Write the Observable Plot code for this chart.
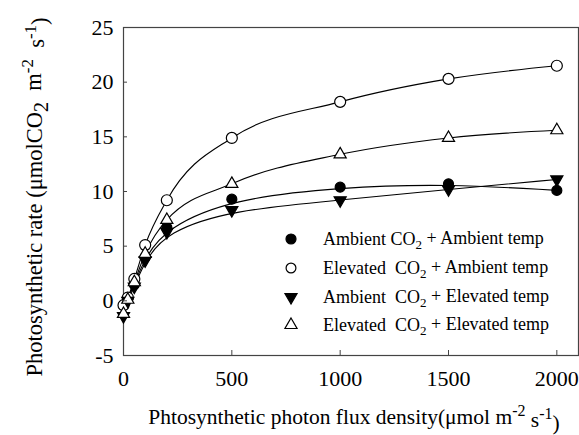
<!DOCTYPE html>
<html><head><meta charset="utf-8">
<script src="https://cdn.jsdelivr.net/npm/d3@7"></script>
<script src="https://cdn.jsdelivr.net/npm/@observablehq/plot@0.6"></script>
<style>
body{margin:0;background:#fff;}
#chart svg{display:block;}
#chart svg, #chart svg text, #chart svg tspan{font-family:'Liberation Serif','Times New Roman',serif !important;}
</style>
</head><body><div id="chart"></div>
<script>
const ppfd = [0, 20, 50, 100, 200, 500, 1000, 1500, 2000];
const seriesNames = [
  "Ambient CO2 + Ambient temp",
  "Elevated CO2 + Ambient temp",
  "Ambient CO2 + Elevated temp",
  "Elevated CO2 + Elevated temp"
];
const ambAmb = [-0.4, 0.2, 1.5, 4.0, 6.7, 9.3, 10.4, 10.7, 10.1];
const eleAmb = [-0.4, 0.3, 2.0, 5.1, 9.2, 14.9, 18.2, 20.3, 21.5];
const ambEle = [-1.4, 0.0, 1.3, 3.7, 6.3, 8.3, 9.2, 10.2, 11.1];
const eleEle = [-1.2, 0.1, 1.7, 4.3, 7.4, 10.7, 13.4, 14.9, 15.6];
const xTicks = [0, 500, 1000, 1500, 2000];
const yTicks = [-5, 0, 5, 10, 15, 20, 25];

const values = [ambAmb, eleAmb, ambEle, eleEle];
const styles = [
  {symbol: "circle", fill: "black", rotate: 0, r: 5, curve: "basis"},
  {symbol: "circle", fill: "white", rotate: 0, r: 5.5, curve: "monotone-x"},
  {symbol: "triangle", fill: "black", rotate: 180, r: 4.5, curve: "basis"},
  {symbol: "triangle", fill: "white", rotate: 0, r: 4.5, curve: "monotone-x"}
];
const data = values.map((vals, i) => ppfd.map((x, j) => ({x, y: vals[j], s: seriesNames[i]})));

const font = "'Liberation Serif', 'Times New Roman', serif";
const marks = [Plot.frame({stroke: "#444", strokeWidth: 1.2})];
data.forEach((d, i) => {
  marks.push(Plot.line(d, {x: "x", y: "y", stroke: "black", strokeWidth: 1.1, curve: styles[i].curve}));
});
data.forEach((d, i) => {
  marks.push(Plot.dot(d, {x: "x", y: "y", symbol: () => styles[i].symbol, fill: styles[i].fill,
    stroke: "black", strokeWidth: 1.2, r: styles[i].r, rotate: styles[i].rotate}));
});
marks.push(Plot.axisX(xTicks, {tickSize: -5, tickPadding: 20, fontSize: 22, stroke: "#444", tickFormat: d => String(d)}));
marks.push(Plot.axisY(yTicks, {tickSize: -4, tickPadding: 14, fontSize: 22, stroke: "#444", tickFormat: d => String(d)}));

const chart = Plot.plot({
  width: 579, height: 435,
  marginLeft: 123, marginRight: 1, marginTop: 27, marginBottom: 80,
  style: {fontFamily: font, fontSize: "22px", background: "white", color: "black"},
  x: {domain: [0, 2100], label: null},
  y: {domain: [-5, 25], label: null},
  symbol: {type: "identity"},
  marks
});
document.getElementById("chart").append(chart);

const svg = d3.select(chart);
function richText(g, parts) {
  parts.forEach(p => {
    const t = g.append("tspan").text(p.t);
    if (p.dy) t.attr("dy", p.dy);
    if (p.fs) t.attr("font-size", p.fs);
  });
}
// y axis title
const yt = svg.append("text").attr("transform", "translate(42,197) rotate(-90)")
  .attr("text-anchor", "middle").attr("font-size", 22.5).attr("fill", "black");
richText(yt, [
  {t: "Photosynthetic rate (μmolCO"}, {t: "2", dy: "0.3em", fs: 20}, {t: "  m", dy: "-0.3em"},
  {t: "-2", dy: "-0.5em", fs: 17}, {t: "  s", dy: "0.5em"}, {t: "-1", dy: "-0.5em", fs: 17}, {t: ")", dy: "0.5em"}
]);
// x axis title
const xt = svg.append("text").attr("x", 354).attr("y", 424)
  .attr("text-anchor", "middle").attr("font-size", 21.5).attr("fill", "black");
richText(xt, [
  {t: "Phtosynthetic photon flux density(μmol m"}, {t: "-2", dy: "-0.5em", fs: 16}, {t: " s", dy: "0.5em"},
  {t: "-1", dy: "-0.5em", fs: 16}, {t: ")", dy: "0.5em"}
]);
// legend
const legendRows = [239, 268, 297, 325];
const legendLabels = [
  ["Ambient CO", " + Ambient temp"],
  ["Elevated  CO", " + Ambient temp"],
  ["Ambient  CO", " + Elevated temp"],
  ["Elevated  CO", " + Elevated temp"]
];
const symGen = [d3.symbolCircle, d3.symbolCircle, d3.symbolTriangle, d3.symbolTriangle];
legendRows.forEach((yy, i) => {
  const st = styles[i];
  svg.append("path")
    .attr("d", d3.symbol(symGen[i], Math.PI * st.r * st.r * (i === 1 ? 0.8 : 1))())
    .attr("transform", `translate(291,${yy}) rotate(${st.rotate})`)
    .attr("fill", st.fill).attr("stroke", "black").attr("stroke-width", 1.2);
  const t = svg.append("text").attr("x", 323).attr("y", yy + 6).attr("text-anchor", "start")
    .attr("font-size", 18).attr("fill", "black");
  richText(t, [{t: legendLabels[i][0]}, {t: "2", dy: "0.3em", fs: 13}, {t: legendLabels[i][1], dy: "-0.3em"}]);
});
</script>
</body></html>
